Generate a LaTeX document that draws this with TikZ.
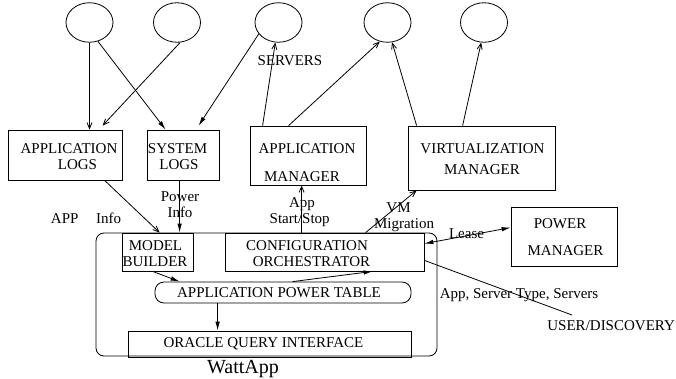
\documentclass[tikz,border=0pt]{standalone}
\usepackage{fontspec}
\setmainfont{Liberation Serif}
\usetikzlibrary{arrows.meta,shapes.geometric,calc}
\begin{document}
\begin{tikzpicture}[x=1pt,y=-1pt,
  every path/.style={line width=0.8pt},
  ell/.style={draw,ellipse,inner sep=0,minimum width=47pt,minimum height=39.5pt},
  box/.style={draw,rectangle,inner sep=0},
  lbl/.style={inner sep=0,anchor=base,font=\fontsize{15}{16}\selectfont},
  fa/.style={-{Latex[length=9pt,width=4.5pt]}},
  oa/.style={-{Straight Barb[length=6pt,width=5pt]}}]
\useasboundingbox (0,0) rectangle (676,379);
% ellipses
\node[ell] (e1) at (89.5,22.5) {};
\node[ell] (e2) at (177,22.5) {};
\node[ell] (e3) at (278.5,22.5) {};
\node[ell] (e4) at (387.5,22.5) {};
\node[ell] (e5) at (484,22.5) {};
% boxes
\node[box,minimum width=114pt,minimum height=50pt] (applogs) at (65,155) {};
\node[box,minimum width=72pt,minimum height=50pt] (syslogs) at (183,155) {};
\node[box,minimum width=116pt,minimum height=59pt] (appmgr) at (308,155.5) {};
\node[box,minimum width=147pt,minimum height=64pt] (virtmgr) at (481.5,158) {};
\node[box,minimum width=106pt,minimum height=59pt] (powermgr) at (564,236.5) {};
\node[box,rounded corners=8pt,minimum width=341pt,minimum height=123pt] (wattapp) at (266.5,294.5) {};
\node[box,minimum width=71pt,minimum height=38pt] (modelb) at (157.5,252) {};
\node[box,minimum width=199pt,minimum height=38pt] (config) at (324.5,252) {};
\node[box,rounded corners=9pt,minimum width=256pt,minimum height=21pt] (apt) at (283,292.5) {};
\node[box,minimum width=283pt,minimum height=26pt] (oracle) at (269.5,344) {};
% box texts
\node[lbl] (t1) at (69,153.5) {APPLICATION};
\node[lbl] (t2) at (77.5,169.8) {LOGS};
\node[lbl] (t3) at (177.5,153.5) {SYSTEM};
\node[lbl] (t4) at (179,169.8) {LOGS};
\node[lbl] (t5) at (307,153.5) {APPLICATION};
\node[lbl] (t6) at (302,181.8) {MANAGER};
\node[lbl] (t7) at (482.5,153.5) {VIRTUALIZATION};
\node[lbl] (t8) at (482,174.8) {MANAGER};
\node[lbl] (t9) at (560,228.8) {POWER};
\node[lbl] (t10) at (565.5,255.8) {MANAGER};
\node[lbl] (t11) at (155.5,250.8) {MODEL};
\node[lbl] (t12) at (155,266.3) {BUILDER};
\node[lbl] (t13) at (307,250.8) {CONFIGURATION};
\node[lbl] (t14) at (311.5,266.3) {ORCHESTRATOR};
\node[lbl] (t15) at (279,297.8) {APPLICATION POWER TABLE};
\node[lbl] (t16) at (263.5,347.8) {ORACLE QUERY INTERFACE};
\node[inner sep=0,anchor=base,font=\fontsize{20}{22}\selectfont] (t17) at (243,373.3) {WattApp};
% edge labels
\node[lbl] (l1) at (290,66) {SERVERS};
\node[lbl] (l2) at (64.7,223.3) {APP};
\node[lbl] (l3) at (108.7,223.3) {Info};
\node[lbl] (l4) at (180,201.7) {Power};
\node[lbl] (l5) at (180,217.5) {Info};
\node[lbl] (l6) at (302,207.8) {App};
\node[lbl] (l7) at (299.7,223.5) {Start/Stop};
\node[lbl] (l8) at (398.5,212) {VM};
\node[lbl] (l9) at (404,228) {Migration};
\node[lbl] (l10) at (466.5,238.5) {Lease};
\node[lbl] (l11) at (519,298.5) {App, Server Type, Servers};
\node[lbl,anchor=base west] (l12) at (547,330.7) {USER/DISCOVERY};
\coordinate (ud) at (572,315);
% connectors
\draw[oa] (e1.south) -- (e1.south |- applogs.north);
\draw[fa] (e1.-66.8) -- ($(syslogs.north west)+(19,0)$);
\draw[oa] (e2.-81.7) -- ($(applogs.north west)+(95,-4)$);
\draw[fa] (e3.-150.4) -- ($(syslogs.north west)+(52,-4)$);
\draw[oa] ($(appmgr.north west)+(13,0)$) -- (e3.-99.7);
\draw[oa] ($(appmgr.north west)+(39,0)$) -- (e4.-112.9);
\draw[oa] ($(virtmgr.north west)+(9,0)$) -- (e4.-77.6);
\draw[oa] ($(virtmgr.north west)+(55,0)$) -- (e5.-98.3);
\draw[oa] ($(applogs.south west)+(97,0)$) -- ($(modelb.north west)+(38,0)$);
\draw[fa] ($(syslogs.south west)+(33,0)$) -- ($(modelb.north west)+(58,0)$);
\draw[oa] ($(config.north west)+(77,0)$) -- ($(appmgr.south west)+(52,0)$);
\draw[oa] ($(config.north west)+(141,0)$) -- ($(virtmgr.south west)+(9,0)$);
\draw[{Latex[length=9pt,width=4.5pt]}-{Latex[length=9pt,width=4.5pt]}] ($(config.north east)+(0,11)$) -- ($(powermgr.north west)+(0,21)$);
\draw[fa] ($(modelb.south west)+(31,0)$) -- ($(apt.north west)+(25,0)$);
\draw[fa] ($(apt.north west)+(138,0)$) -- ($(config.south west)+(148,0)$);
\draw[fa] ($(apt.south west)+(63,0)$) -- ($(oracle.north west)+(90,0)$);
\draw ($(config.south east)+(0,-11)$) -- (ud);
\end{tikzpicture}
\end{document}
